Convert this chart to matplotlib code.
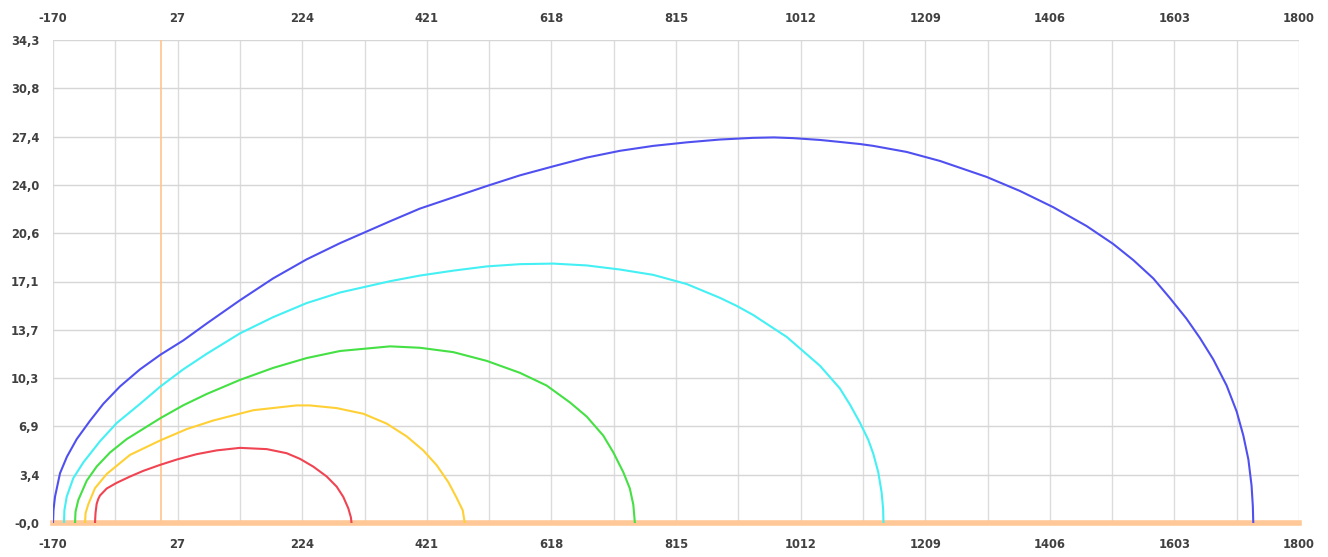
import matplotlib
matplotlib.use("Agg")
import matplotlib.pyplot as plt
import numpy as np

plt.rcParams["axes.unicode_minus"] = False

# Подписи осей (как на исходном графике)
x_ticks = [-170, 27, 224, 421, 618, 815, 1012, 1209, 1406, 1603, 1800]
y_max = 34.26
y_labels = ["-0,0", "3,4", "6,9", "10,3", "13,7", "17,1", "20,6", "24,0", "27,4", "30,8", "34,3"]

# Траектории
blue_x = [-170, -169.3, -166.8, -158.9, -148, -132.5, -111.5, -90.5, -64, -32.4, 0.3, 36, 73,
          125.6, 178, 231, 283.8, 362.8, 410, 462.9, 515.7, 568.3, 621, 673.8, 726.4, 779.1,
          832, 884.5, 937, 970, 1000, 1042.7, 1074, 1106, 1126.9, 1179.7, 1232.4, 1306,
          1358.9, 1411.5, 1464.3, 1506, 1538, 1569.6, 1596, 1622, 1643.4, 1664.5, 1685.6,
          1701.5, 1712, 1720, 1725, 1727, 1727.7]
blue_y = [0, 0.9, 1.87, 3.53, 4.7, 5.95, 7.25, 8.45, 9.69, 10.9, 11.95, 12.95, 14.15,
          15.8, 17.35, 18.7, 19.85, 21.4, 22.3, 23.1, 23.9, 24.66, 25.3, 25.92, 26.4, 26.75,
          27.0, 27.2, 27.32, 27.35, 27.3, 27.17, 27.03, 26.88, 26.75, 26.32, 25.68, 24.55,
          23.55, 22.4, 21.06, 19.8, 18.65, 17.35, 15.95, 14.5, 13.12, 11.6, 9.75,
          7.9, 6.2, 4.5, 2.65, 1.2, 0]

cyan_x = [-152.6, -152, -148.3, -137.9, -122, -95.7, -69, -32.4, 0.3, 36, 73, 125.6, 178,
          231.1, 283.8, 362.8, 410, 462.9, 515.7, 568.3, 621, 673.8, 726.4, 779.1, 831.9,
          884.5, 911, 937.2, 990, 1042.7, 1074, 1090, 1106, 1119, 1127, 1134.8, 1140,
          1142.5, 1143]
cyan_y = [0, 0.9, 1.87, 3.18, 4.3, 5.8, 7.1, 8.45, 9.7, 10.9, 12.0, 13.45, 14.6,
          15.6, 16.35, 17.15, 17.55, 17.9, 18.2, 18.36, 18.4, 18.27, 17.98, 17.6, 16.95,
          15.97, 15.4, 14.75, 13.2, 11.15, 9.55, 8.4, 7.1, 5.9, 4.9, 3.6, 2.2,
          1.0, 0]

green_x = [-135.2, -134.4, -130, -116.7, -101, -79.9, -53.5, 0.3, 36, 73, 125.6, 178, 231.1,
           283.8, 363, 410, 462.9, 515.7, 568.3, 610.5, 647.4, 673.8, 700, 716, 731.7, 742,
           747.5, 750]
green_y = [0, 0.8, 1.63, 3.0, 4.0, 5.0, 5.95, 7.45, 8.35, 9.15, 10.15, 11.0, 11.7,
           12.2, 12.53, 12.43, 12.12, 11.5, 10.65, 9.75, 8.55, 7.55, 6.2, 5.0, 3.6, 2.45,
           1.3, 0]

yellow_x = [-119.4, -118.5, -114, -103.6, -85, -48.3, -0.8, 41.4, 83.4, 146.7, 215, 236,
            278.5, 320.6, 357.6, 389, 415.4, 436.6, 455, 468, 477.8, 481]
yellow_y = [0, 0.7, 1.35, 2.47, 3.48, 4.83, 5.85, 6.66, 7.27, 8.0, 8.34, 8.34,
            8.15, 7.75, 7.05, 6.15, 5.15, 4.1, 2.9, 1.8, 0.9, 0]

red_x = [-103.6, -102.8, -101, -98.5, -95.7, -85, -69.3, -48, -27.2, -0.8, 25.6, 57, 88.8,
         125.6, 168, 199.5, 220.5, 241.5, 262.7, 278.5, 289, 296.9, 301, 302]
red_y = [0, 0.7, 1.35, 1.7, 1.95, 2.45, 2.85, 3.3, 3.7, 4.12, 4.5, 4.88, 5.15,
         5.33, 5.24, 4.95, 4.55, 4.0, 3.3, 2.58, 1.85, 1.04, 0.4, 0]

fig = plt.figure(figsize=(13.28, 5.57), dpi=100)
ax = fig.add_axes([53 / 1328, 1 - 523 / 557, (1299 - 53) / 1328, (523 - 40) / 557])

ax.set_xlim(-170, 1800)
ax.set_ylim(0, y_max)

# Сетка: по x главные и промежуточные линии, по y только главные
ax.set_xticks(x_ticks)
ax.set_xticks([(a + b) / 2 for a, b in zip(x_ticks[:-1], x_ticks[1:])], minor=True)
ax.set_yticks(np.linspace(0, y_max, len(y_labels)))
ax.set_yticklabels(y_labels)
ax.grid(True, which="both", axis="x", color="#dcdcdc", linewidth=1)
ax.grid(True, which="major", axis="y", color="#d6d6d6", linewidth=1)
ax.set_axisbelow(True)

ax.tick_params(which="both", length=0)
ax.tick_params(axis="x", labeltop=True, labelbottom=True, pad=11)
ax.tick_params(axis="y", pad=10)
for lab in ax.get_xticklabels() + ax.get_yticklabels():
    lab.set_fontsize(8.3)
    lab.set_fontweight("bold")
    lab.set_color("#404040")
for s in ax.spines.values():
    s.set_visible(False)

# Оси координат
ax.axvline(0, color="#ffc48c", linewidth=1.2, zorder=2)
ax.axhline(0, color="#ffc896", linewidth=4, zorder=2, clip_on=False)

style = dict(linewidth=1.5, zorder=3, solid_joinstyle="round")
ax.plot(red_x, red_y, color="#f04452", **style)
ax.plot(yellow_x, yellow_y, color="#ffd035", **style)
ax.plot(green_x, green_y, color="#44e044", **style)
ax.plot(cyan_x, cyan_y, color="#44f0f4", **style)
ax.plot(blue_x, blue_y, color="#5050f0", **style)

fig.savefig("out.png", dpi=100)
